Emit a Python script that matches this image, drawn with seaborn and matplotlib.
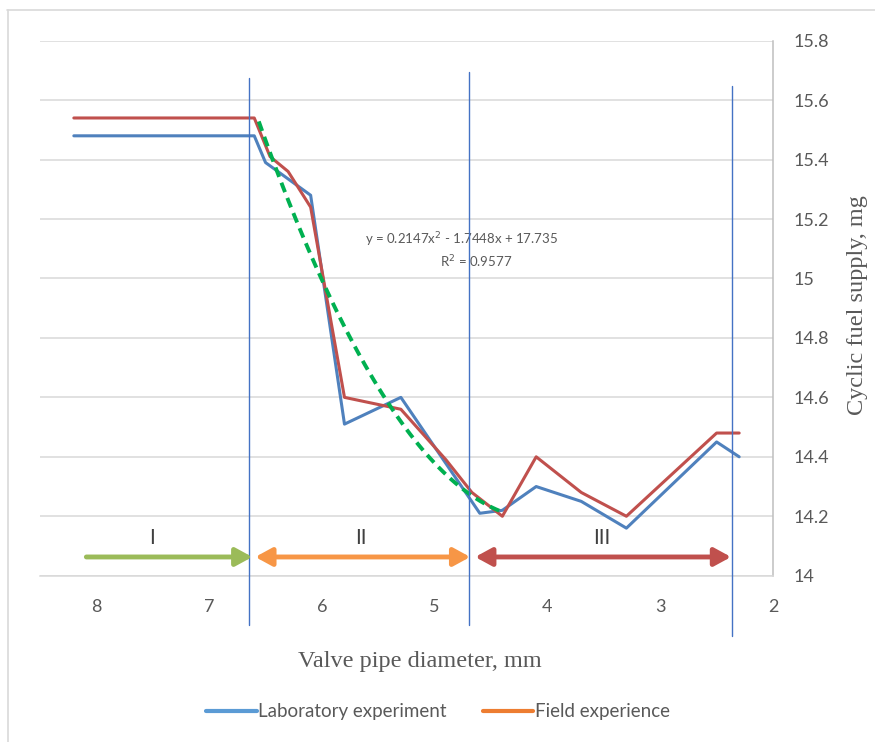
import numpy as np
import pandas as pd
import matplotlib
matplotlib.use("Agg")
import matplotlib.pyplot as plt
import seaborn as sns
from matplotlib.lines import Line2D

# ---- data ----
lab_x = [8.2, 6.6, 6.5, 6.1, 5.8, 5.3, 4.6, 4.4, 4.1, 3.7, 3.3, 2.5, 2.3]
lab_y = [15.48, 15.48, 15.39, 15.28, 14.51, 14.60, 14.21, 14.22, 14.30, 14.25, 14.16, 14.45, 14.40]
field_x = [8.2, 6.6, 6.46, 6.3, 6.1, 5.8, 5.3, 4.9, 4.67, 4.4, 4.1, 3.7, 3.3, 2.5, 2.3]
field_y = [15.54, 15.54, 15.41, 15.36, 15.24, 14.60, 14.56, 14.39, 14.28, 14.20, 14.40, 14.28, 14.20, 14.48, 14.48]
trend_coef = [0.2147, -1.7448, 17.735]   # y = 0.2147x² - 1.7448x + 17.735
trend_range = [6.56, 4.42]
zone_bounds = [6.644, 4.694, 2.363]
zone_labels = ["I", "II", "III"]
y_ticks = [14, 14.2, 14.4, 14.6, 14.8, 15, 15.2, 15.4, 15.6, 15.8]
y_tick_labels = ["14", "14.2", "14.4", "14.6", "14.8", "15", "15.2", "15.4", "15.6", "15.8"]
x_ticks = [8, 7, 6, 5, 4, 3, 2]
series_names = ["Laboratory experiment", "Field experience"]

lab_df = pd.DataFrame({"x": lab_x, "y": lab_y})
field_df = pd.DataFrame({"x": field_x, "y": field_y})
tx = np.linspace(trend_range[0], trend_range[1], 60)
trend_df = pd.DataFrame({"x": tx, "y": np.polyval(trend_coef, tx)})

sns.set_style("white")
plt.rcParams["font.family"] = ["Lato", "DejaVu Sans"]

fig = plt.figure(figsize=(8.75, 7.42), dpi=100)
ax = fig.add_axes([40/875, 1-575.7/742, 733/875, 535/742])

grey_txt = "#595959"
grid_c = "#D9D9D9"

for yt in y_ticks:
    ax.axhline(yt, color=grid_c, lw=1.1, zorder=0)

sns.lineplot(data=lab_df, x="x", y="y", sort=False, color="#4F81BD", lw=2.2, ax=ax, zorder=3)
sns.lineplot(data=field_df, x="x", y="y", sort=False, color="#C0504D", lw=2.2, ax=ax, zorder=4)
sns.lineplot(data=trend_df, x="x", y="y", sort=False, color="#00B050", lw=2.8, ax=ax,
             zorder=5, dashes=False, linestyle=(0, (2.6, 1.6)))

ax.set_xlim(8.5, 2.0)
ax.set_ylim(14, 15.8)

# zone boundaries
vl_tops = [15.674, 15.695, 15.648]
vl_bots = [13.834, 13.834, 13.797]
for xb, t, b in zip(zone_bounds, vl_tops, vl_bots):
    ax.plot([xb, xb], [b, t], color="#4472C4", lw=1.0, clip_on=False, zorder=6)

# arrows
arr_y = 14.063
arrows = [(8.089, 6.617, "-|>", "#9BBB59"),
          (6.591, 4.685, "<|-|>", "#F79646"),
          (4.641, 2.372, "<|-|>", "#C0504D")]
for x0, x1, st, c in arrows:
    ax.annotate("", xy=(x1, arr_y), xytext=(x0, arr_y),
                arrowprops=dict(arrowstyle=f"{st},head_length=0.55,head_width=0.3",
                                color=c, lw=3.5, shrinkA=0, shrinkB=0,
                                mutation_scale=18), zorder=7)
for xl, lab in zip([7.504, 5.651, 3.515], zone_labels):
    ax.text(xl, 14.127, lab, ha="center", va="center", fontsize=15, color="#404040")

# equation
ax.text(0.5745, 0.6275, "y = 0.2147x$^2$ - 1.7448x + 17.735", transform=ax.transAxes,
        ha="center", va="center", fontsize=9.5, color=grey_txt)
ax.text(0.5948, 0.5863, "R$^2$ = 0.9577", transform=ax.transAxes,
        ha="center", va="center", fontsize=9.5, color=grey_txt)

# axes styling
ax.yaxis.tick_right()
ax.set_yticks(y_ticks)
ax.set_yticklabels(y_tick_labels)
ax.set_xticks(x_ticks)
ax.set_xticklabels([str(v) for v in x_ticks])
ax.tick_params(axis="both", length=0, labelsize=13, colors=grey_txt)
ax.tick_params(axis="y", pad=15)
ax.tick_params(axis="x", pad=17)
ax.set_xlabel("")
ax.set_ylabel("")
for s in ["left", "top"]:
    ax.spines[s].set_visible(False)
ax.spines["right"].set_color("#BFBFBF")
ax.spines["bottom"].set_color(grid_c)
ax.spines["right"].set_linewidth(1.1)
ax.spines["bottom"].set_linewidth(1.1)

fig.text(420/875, 1-662/742, "Valve pipe diameter, mm", ha="center", va="center",
         fontsize=17.5, color=grey_txt, family="Liberation Serif")
fig.text(857/875, 1-305/742, "Cyclic fuel supply, mg", ha="center", va="center",
         rotation=90, fontsize=17.5, color=grey_txt, family="Liberation Serif")

handles = [Line2D([0], [0], color="#5B9BD5", lw=3),
           Line2D([0], [0], color="#ED7D31", lw=3)]
fig.legend(handles, series_names, loc="center", bbox_to_anchor=(438/875, 1-712/742),
           ncol=2, frameon=False, fontsize=13.5, handlelength=2.7, handletextpad=0.1,
           columnspacing=1.9, labelcolor=grey_txt)

# outer frame (top + left edges)
fig.add_artist(Line2D([7/875, 1], [1-10/742, 1-10/742], color="#D9D9D9", lw=1.2))
fig.add_artist(Line2D([8/875, 8/875], [0, 1-10/742], color="#D9D9D9", lw=1.2))

fig.savefig("out.png", dpi=100)
